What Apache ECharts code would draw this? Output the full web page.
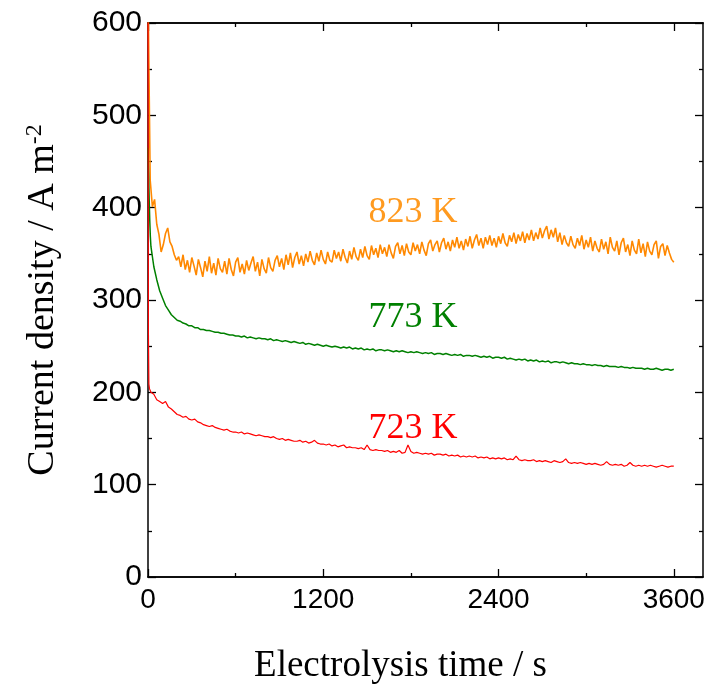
<!DOCTYPE html>
<html>
<head>
<meta charset="utf-8">
<script src="https://cdn.jsdelivr.net/npm/echarts@6/dist/echarts.min.js"></script>
<style>
  html, body { margin: 0; padding: 0; background: #fff; }
  #chart { width: 712px; height: 686px; }
</style>
</head>
<body>
<div id="chart"></div>
<script>
// Current density transients during potentiostatic electrolysis at three temperatures.

// x axis ticks (s)
const timeMajorTicks = [0, 1200, 2400, 3600];
const timeMinorTicks = [600, 1800, 3000];

// 823 K: sampled every 15 s from t = 0
const step823 = 15;
const j823 = [
  640, 430, 401, 409, 382, 371, 352, 360, 372, 378, 363, 358,
  349, 343, 347, 336, 349, 333, 343, 330, 346, 337, 327, 344,
  335, 325, 342, 331, 347, 329, 340, 327, 345, 334, 330, 342,
  328, 345, 333, 326, 341, 346, 330, 339, 328, 343, 332, 340,
  347, 331, 341, 326, 344, 334, 329, 346, 335, 331, 343, 348,
  336, 345, 333, 349, 338, 351, 335, 346, 352, 339, 348, 337,
  350, 341, 353, 343, 338, 351, 342, 354, 344, 339, 352, 343,
  341, 354, 345, 352, 342, 355, 346, 340, 353, 344, 357, 347,
  343, 355, 346, 358, 348, 344, 359, 349, 356, 346, 360, 350,
  357, 347, 360, 351, 345, 358, 362, 350, 359, 348, 361, 352,
  349, 362, 353, 360, 350, 363, 354, 348, 361, 365, 353, 360,
  364, 352, 362, 367, 355, 363, 353, 365, 357, 368, 356, 364,
  354, 366, 358, 369, 356, 365, 371, 359, 367, 356, 368, 360,
  370, 359, 367, 357, 369, 361, 372, 362, 358, 370, 363, 373,
  361, 371, 364, 374, 362, 372, 365, 376, 364, 373, 366, 378,
  367, 375, 380, 366, 376, 368, 378, 363, 373, 360, 370, 362,
  358, 369, 360, 356, 367, 359, 370, 355, 365, 357, 368, 353,
  364, 356, 352, 366, 355, 363, 350, 368, 357, 353, 364, 349,
  362, 367, 352, 360, 348, 364, 354, 350, 366, 351, 361, 347,
  363, 353, 349, 360, 364, 345, 358, 361, 348, 359, 351, 344,
  341
];

// 773 K: first seconds, then every 20 s from t = 20
const head773T = [0, 4, 8, 12, 16];
const head773J = [465, 438, 410, 386, 369];
const step = 20;
const j773 = [
  358, 336, 322, 310, 302, 294, 289, 284, 281, 278,
  277, 275, 274, 272, 272, 270, 270, 268, 268, 267,
  267, 266, 265, 265, 264, 264, 263, 262, 262, 261,
  261, 260, 261, 259, 260, 259, 258, 259, 258, 258,
  257, 258, 256, 257, 256, 255, 256, 255, 254, 255,
  254, 253, 254, 252, 253, 252, 251, 252, 251, 250,
  251, 250, 249, 250, 249, 248, 249, 248, 249, 247,
  248, 247, 248, 246, 247, 246, 247, 245, 246, 246,
  245, 246, 245, 244, 245, 244, 245, 244, 243, 244,
  243, 244, 243, 242, 243, 242, 243, 241, 242, 242,
  241, 242, 241, 240, 241, 240, 241, 239, 240, 240,
  239, 240, 239, 238, 239, 238, 239, 237, 238, 238,
  237, 238, 236, 237, 236, 235, 236, 235, 236, 234,
  235, 234, 235, 233, 234, 233, 234, 232, 233, 233,
  232, 233, 232, 231, 232, 231, 231, 230, 231, 230,
  230, 229, 230, 229, 229, 228, 229, 228, 228, 228,
  227, 228, 227, 227, 226, 227, 226, 226, 226, 225,
  226, 225, 225, 226, 225, 224, 225, 225, 224, 225
];

// 723 K: first seconds, then every 20 s from t = 20
const head723T = [0, 3, 6, 10, 15];
const head723J = [620, 262, 209, 204, 202];
const j723 = [
  200, 198, 192, 190, 188, 190, 184, 182, 179, 176,
  175, 173, 174, 171, 170, 171, 168, 167, 165, 164,
  163, 164, 162, 161, 160, 159, 160, 158, 157, 157,
  156, 157, 155, 156, 155, 154, 153, 154, 153, 152,
  152, 151, 152, 150, 149, 150, 148, 149, 148, 147,
  147, 148, 146, 147, 145, 146, 148, 145, 144, 144,
  143, 144, 142, 143, 141, 142, 143, 140, 141, 140,
  140, 139, 140, 138, 143, 138, 137, 138, 137, 137,
  136, 137, 135, 136, 135, 137, 134, 135, 143, 136,
  134, 135, 134, 133, 134, 133, 134, 132, 133, 133,
  132, 133, 131, 132, 131, 132, 130, 131, 130, 131,
  130, 131, 129, 130, 129, 130, 128, 129, 128, 129,
  128, 129, 127, 128, 127, 131, 127, 126, 127, 126,
  126, 127, 125, 126, 125, 126, 125, 124, 126, 125,
  124, 125, 128, 124, 123, 124, 123, 124, 123, 122,
  123, 122, 123, 122, 121, 122, 125, 122, 121, 122,
  121, 122, 120, 121, 124, 121, 120, 121, 120, 121,
  120, 121, 120, 119, 120, 121, 120, 119, 120, 120
];

const seriesNames = ['823 K', '773 K', '723 K'];
const lineColors = ['#ff8800', '#008000', '#ff0000'];
const lineWidths = [1.6, 1.5, 1.2];
const labelColors = ['#ff9a1f', '#008000', '#ff0000'];
const labelAnchors = [[1814, 395], [1814, 281], [1814, 161]];

function gridSeries(values, t0, dt) {
  return values.map((v, i) => [t0 + i * dt, v]);
}
function headSeries(ts, vs) {
  return ts.map((t, i) => [t, vs[i]]);
}

const data823 = gridSeries(j823, 0, step823);
const data773 = headSeries(head773T, head773J).concat(gridSeries(j773, 20, step));
const data723 = headSeries(head723T, head723J).concat(gridSeries(j723, 20, step));
const allData = [data823, data773, data723];

const sans = 'Liberation Sans, Arial, sans-serif';
const serif = 'Liberation Serif, Times New Roman, serif';
const axisLine = { show: true, onZero: false, lineStyle: { color: '#000', width: 1.5 } };
const tickStyle = { color: '#000', width: 1.3 };

function xAxisDef(pos, values, len, withLabels) {
  return {
    type: 'value', position: pos, min: 0, max: 3800,
    axisLine: axisLine,
    splitLine: { show: false },
    axisTick: { show: true, inside: true, length: len, customValues: values, lineStyle: tickStyle },
    axisLabel: withLabels
      ? { show: true, customValues: values, formatter: v => String(v),
          color: '#000', fontFamily: sans, fontSize: 28, margin: 9 }
      : { show: false }
  };
}

function yAxisDef(pos, withLabels) {
  return {
    type: 'value', position: pos, min: 0, max: 600, interval: 100,
    axisLine: axisLine, splitLine: { show: false },
    axisTick: { show: true, inside: true, length: 8, lineStyle: tickStyle },
    minorTick: { show: true, splitNumber: 2, length: 4, lineStyle: tickStyle },
    axisLabel: withLabels
      ? { color: '#000', fontFamily: sans, fontSize: 30, margin: 6 }
      : { show: false }
  };
}

const option = {
  animation: false,
  backgroundColor: '#fff',
  grid: { left: 148, right: 9, top: 23, bottom: 109, containLabel: false, outerBoundsMode: 'none' },
  xAxis: [
    Object.assign(xAxisDef('bottom', timeMajorTicks, 8, true), {
      name: 'Electrolysis time / s', nameLocation: 'middle', nameGap: 71,
      nameTextStyle: { fontFamily: serif, fontSize: 37, color: '#000', padding: [0, 50, 0, 0] }
    }),
    xAxisDef('bottom', timeMinorTicks, 4, false),
    xAxisDef('top', timeMajorTicks, 8, false),
    xAxisDef('top', timeMinorTicks, 4, false)
  ],
  yAxis: [
    Object.assign(yAxisDef('left', true), {
      name: 'Current density / A m{sup|-2}', nameLocation: 'middle', nameGap: 84, nameRotate: 90,
      nameTextStyle: {
        fontFamily: serif, fontSize: 38, color: '#000',
        rich: { sup: { fontFamily: serif, fontSize: 24, color: '#000', verticalAlign: 'top', padding: [0, 0, 17, 0] } }
      }
    }),
    yAxisDef('right', false)
  ],
  series: allData.map((d, k) => ({
    name: seriesNames[k],
    type: 'line',
    data: d,
    showSymbol: false,
    symbol: 'none',
    clip: true,
    lineStyle: { color: lineColors[k], width: lineWidths[k] },
    z: 2 + k,
    markPoint: {
      symbol: 'circle', symbolSize: 0,
      label: { show: true, position: 'inside', formatter: seriesNames[k],
               fontFamily: serif, fontSize: 36, color: labelColors[k] },
      data: [{ coord: labelAnchors[k] }]
    }
  }))
};

const chart = echarts.init(document.getElementById('chart'), null, { renderer: 'canvas' });
chart.setOption(option);
</script>
</body>
</html>
